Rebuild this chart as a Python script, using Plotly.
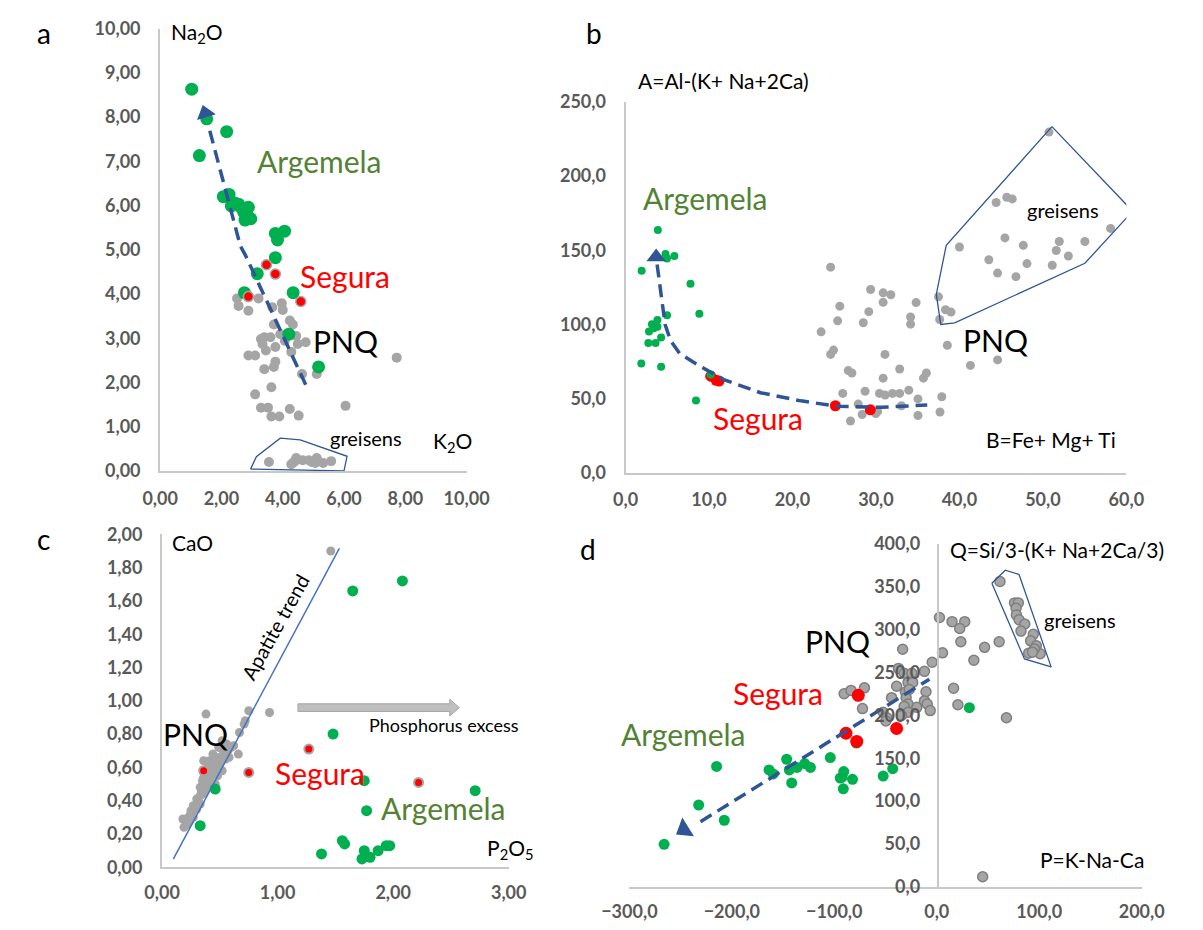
import plotly.graph_objects as go

W, H = 1203, 930

# ---------------- panel a : Na2O vs K2O ----------------
a_pnq_k2o = [2.51, 2.56, 2.88, 3.21, 3.66, 3.97, 4.00, 3.71, 4.23, 4.33, 3.29, 3.40, 3.34, 3.60,
             3.45, 3.76, 3.92, 4.07, 4.44, 4.49, 4.75, 4.28, 2.88, 3.10, 3.76, 3.71, 3.40, 4.63,
             5.11, 7.72, 3.63, 3.10, 3.29, 3.52, 3.63, 3.89, 4.23, 4.52, 6.05]
a_pnq_na2o = [3.90, 3.73, 3.62, 3.90, 3.70, 3.79, 3.64, 3.31, 3.40, 3.31, 2.98, 3.02, 2.87, 3.02,
              2.72, 2.80, 3.09, 2.94, 3.05, 2.87, 2.91, 2.69, 2.61, 2.61, 2.47, 2.35, 2.30, 2.19,
              2.19, 2.56, 1.89, 1.73, 1.43, 1.43, 1.23, 1.23, 1.40, 1.25, 1.47]
a_gr_k2o = [3.55, 4.33, 4.44, 4.65, 4.85, 5.11, 5.06, 5.32, 5.58, 4.28, 4.40, 4.95]
a_gr_na2o = [0.20, 0.18, 0.29, 0.24, 0.24, 0.29, 0.18, 0.18, 0.22, 0.15, 0.22, 0.20]
a_arg_k2o = [1.03, 1.52, 2.17, 1.28, 2.06, 2.25, 2.32, 2.56, 2.88, 2.73, 2.77, 2.96, 2.45, 2.65,
             2.83, 3.76, 4.06, 3.83, 3.76, 3.17, 2.75, 4.34, 4.20, 5.17]
a_arg_na2o = [8.63, 7.96, 7.67, 7.13, 6.20, 6.25, 5.99, 6.03, 5.96, 5.85, 5.67, 5.70, 6.05, 5.95,
              5.80, 5.37, 5.42, 5.22, 4.82, 4.46, 4.03, 4.03, 3.09, 2.35]
a_seg_k2o = [3.47, 3.76, 2.88, 4.59]
a_seg_na2o = [4.66, 4.45, 3.94, 3.83]
a_trend_k2o = [1.62, 2.62, 2.78, 4.75]
a_trend_na2o = [7.69, 5.08, 4.88, 1.95]
a_greisen_k2o = [2.95, 3.14, 3.92, 4.57, 6.10, 6.00, 2.95]
a_greisen_na2o = [0.04, 0.32, 0.74, 0.70, 0.33, 0.00, 0.04]

# ---------------- panel b : A vs B ----------------
b_arg_b = [3.87, 1.93, 4.79, 4.97, 5.85, 7.78, 8.84, 4.97, 3.82, 3.16, 3.38, 2.81, 3.82, 4.26,
           2.73, 3.60, 1.89, 4.26, 8.44, 10.20]
b_arg_a = [163.6, 136.2, 147.4, 144.5, 146.1, 127.4, 107.2, 106.1, 102.9, 100.2, 97.4, 95.2, 98.5,
           91.2, 87.5, 87.5, 73.7, 71.5, 48.7, 66.2]
b_seg_b = [10.2, 10.86, 11.2, 25.14, 29.32]
b_seg_a = [65.1, 62.3, 61.8, 45.2, 42.5]
b_pnq_b = [24.57, 25.67, 25.41, 23.43, 24.92, 24.57, 26.68, 27.12, 26.02, 27.87, 26.95, 28.35,
           28.70, 28.48, 29.14, 29.36, 30.86, 31.78, 30.86, 31.08, 30.86, 32.84, 30.42, 31.10,
           31.98, 32.84, 33.93, 30.20, 29.98, 33.05, 35.03, 35.03, 35.69, 36.04, 34.15, 34.15,
           34.81, 37.49, 37.63, 38.33, 38.99, 38.55, 37.89, 37.67, 41.32, 44.57]
b_pnq_a = [138.6, 112.3, 102.4, 95.0, 82.7, 79.8, 68.9, 67.3, 53.5, 46.3, 34.9, 39.3, 55.0, 101.1,
           108.6, 123.5, 121.3, 120.0, 114.9, 79.8, 63.8, 70.0, 53.5, 52.4, 53.5, 53.5, 55.7,
           41.4, 39.9, 45.2, 49.8, 38.6, 63.8, 67.3, 105.0, 100.2, 114.7, 118.6, 103.3, 109.9,
           108.3, 86.0, 51.3, 41.0, 72.4, 76.1]
b_gr_b = [50.73, 44.40, 45.67, 46.33, 40.00, 45.45, 47.65, 51.96, 55.03, 58.11, 51.60, 53.05,
          43.52, 48.09, 51.12, 44.57, 46.77]
b_gr_a = [229.6, 182.2, 185.7, 184.6, 152.2, 158.3, 153.3, 155.9, 155.9, 164.7, 149.8, 146.1,
          143.6, 141.0, 139.9, 134.6, 132.2]
b_trend_b = [3.78, 4.30, 4.74, 5.40, 6.50, 8.70, 11.77, 16.16, 20.99, 25.38, 30.65, 36.14]
b_trend_a = [140.4, 117.4, 99.9, 89.0, 80.3, 72.6, 62.8, 54.0, 48.5, 44.8, 44.2, 45.7]
b_greisen_b = [51.08, 60.75, 55.03, 39.43, 37.76, 37.23, 38.42, 51.08]
b_greisen_a = [233.3, 176.3, 141.2, 101.1, 100.0, 120.4, 153.3, 233.3]

# ---------------- panel c : CaO vs P2O5 ----------------
c_pnq_p = [1.46, 0.38, 0.75, 0.93, 0.72, 0.71, 0.67, 0.66, 0.56, 0.53, 0.44, 0.49, 0.36, 0.41,
           0.50, 0.44, 0.36, 0.41, 0.46, 0.38, 0.34, 0.33, 0.30, 0.27, 0.25, 0.24, 0.22, 0.18,
           0.21, 0.19, 0.33, 0.38, 0.49, 0.52,
           0.20, 0.23, 0.26, 0.28, 0.31, 0.33, 0.35, 0.37, 0.39, 0.42, 0.43, 0.45, 0.47, 0.48,
           0.51, 0.54, 0.57, 0.60, 0.58, 0.62, 0.40, 0.46, 0.52, 0.35, 0.30, 0.27, 0.22, 0.24,
           0.44, 0.55]
c_pnq_ca = [1.90, 0.92, 0.94, 0.93, 0.88, 0.86, 0.81, 0.68, 0.74, 0.70, 0.68, 0.66, 0.64, 0.64,
            0.62, 0.58, 0.54, 0.52, 0.50, 0.48, 0.46, 0.43, 0.41, 0.37, 0.34, 0.31, 0.29, 0.29,
            0.27, 0.24, 0.48, 0.58, 0.72, 0.76,
            0.28, 0.30, 0.33, 0.36, 0.40, 0.38, 0.44, 0.46, 0.50, 0.54, 0.49, 0.57, 0.60, 0.55,
            0.64, 0.67, 0.70, 0.72, 0.66, 0.73, 0.62, 0.63, 0.58, 0.52, 0.35, 0.30, 0.26, 0.28,
            0.61, 0.65]
c_arg_p = [1.65, 2.08, 1.48, 1.75, 1.77, 2.71, 0.46, 0.33, 1.38, 1.56, 1.58, 1.75, 1.73, 1.80,
           1.87, 1.94, 1.97]
c_arg_ca = [1.66, 1.72, 0.80, 0.52, 0.34, 0.46, 0.47, 0.25, 0.08, 0.16, 0.14, 0.10, 0.05, 0.06,
            0.10, 0.13, 0.13]
c_seg_p = [0.36, 0.75, 1.27, 2.22]
c_seg_ca = [0.58, 0.57, 0.71, 0.51]
c_apatite_p = [0.097, 1.534]
c_apatite_ca = [0.049, 1.916]

# ---------------- panel d : Q vs P ----------------
d_pnq_p = [61.7, 75.9, 79.6, 77.4, 77.7, 80.3, 85.9, 82.2, 94.2, 91.6, 97.2, 89.7, 100.9, 95.3,
           93.4, 2.6, 14.9, 27.3, 22.4, 23.5, 46.7, 60.9, 5.6, -4.5, 36.2, -33.3, -12.0, -37.4,
           -31.8, -24.3, -28.0, -23.5, -39.2, -30.6, -26.9, -10.5, -44.1, -29.9, -28.0, -31.8,
           -19.4, -12.0, -9.3, -6.4, -28.0, -34.4, -52.3, -48.6, -49.7, -90.4, -83.7, -70.6,
           -72.5, 16.4, 20.6, 68.0, 44.8]
d_pnq_q = [356.4, 331.4, 331.4, 325.0, 317.4, 311.7, 306.8, 298.5, 294.7, 287.1, 281.4, 272.7,
           272.0, 277.7, 273.9, 314.4, 309.5, 309.5, 301.5, 286.0, 279.5, 286.0, 273.1, 262.1,
           264.4, 277.3, 251.5, 254.9, 249.2, 249.2, 238.6, 238.6, 234.1, 227.3, 230.3, 227.7,
           220.8, 220.8, 213.3, 210.6, 209.5, 217.0, 213.3, 205.7, 203.8, 200.0, 203.8, 197.3,
           193.6, 225.4, 229.2, 232.2, 208.0, 231.8, 212.5, 197.3, 11.7]
d_arg_p = [-266.1, -232.4, -207.4, -214.9, -163.7, -159.6, -146.5, -143.9, -136.4, -128.9,
           -123.3, -141.6, -103.9, -90.8, -92.3, -94.2, -82.2, -91.2, -78.5, -52.3, -43.0, 31.8]
d_arg_q = [49.6, 95.5, 77.7, 140.5, 136.4, 131.8, 148.9, 136.4, 139.4, 143.9, 139.4, 121.2,
           150.8, 134.5, 128.0, 126.9, 125.4, 114.4, 167.8, 129.2, 137.9, 209.1]
d_seg_p = [-76.6, -88.6, -78.1, -39.2]
d_seg_q = [223.5, 179.2, 169.7, 184.8]
d_trend_p = [-230.6, -7.2]
d_trend_q = [76.0, 242.3]
d_greisen_p = [53.75, 66.9, 80.3, 111.6, 85.6, 53.75]
d_greisen_q = [354.3, 369.5, 364.6, 256.7, 265.9, 354.3]

GREEN = "#00b050"
RED = "#ff0000"
GREY = "#a5a5a5"
DARKBLUE = "#2f5597"
ARG_TXT = "#548235"
AXIS = "#c8c8c8"
TICK = "#595959"


def px_x(x):
    return x / W


def px_y(y):
    return 1 - y / H


fig = go.Figure()


def pts(x, y, ax, color, size, line_color=None, line_width=0):
    fig.add_trace(go.Scatter(
        x=x, y=y, mode="markers", xaxis="x" + ax, yaxis="y" + ax, showlegend=False,
        marker=dict(color=color, size=size,
                    line=dict(color=line_color or color, width=line_width))))


def trend(x, y, ax, dash="13px,7px", width=3.5):
    fig.add_trace(go.Scatter(
        x=x, y=y, mode="lines", xaxis="x" + ax, yaxis="y" + ax, showlegend=False,
        line=dict(color=DARKBLUE, width=width, dash=dash)))


def head(x, y, ax, angle, size):
    fig.add_trace(go.Scatter(
        x=[x], y=[y], mode="markers", xaxis="x" + ax, yaxis="y" + ax, showlegend=False,
        marker=dict(symbol="triangle-up", color=DARKBLUE, size=size, angle=angle,
                    line=dict(width=0))))


def outline(x, y, ax):
    fig.add_trace(go.Scatter(
        x=x, y=y, mode="lines", xaxis="x" + ax, yaxis="y" + ax, showlegend=False,
        line=dict(color=DARKBLUE, width=1.3)))


# panel a
pts(a_pnq_k2o, a_pnq_na2o, "", GREY, 10)
pts(a_gr_k2o, a_gr_na2o, "", GREY, 10)
outline(a_greisen_k2o, a_greisen_na2o, "")
pts(a_arg_k2o, a_arg_na2o, "", GREEN, 13)
pts(a_seg_k2o, a_seg_na2o, "", RED, 10, GREY, 1.5)
trend(a_trend_k2o, a_trend_na2o, "")
head(1.47, 8.09, "", -17, 17)

# panel b
pts(b_pnq_b, b_pnq_a, "2", GREY, 9)
pts(b_gr_b, b_gr_a, "2", GREY, 9)
outline(b_greisen_b, b_greisen_a, "2")
pts(b_seg_b, b_seg_a, "2", RED, 11)
pts(b_arg_b, b_arg_a, "2", GREEN, 8)
trend(b_trend_b, b_trend_a, "2")
head(3.67, 145.4, "2", 0, 17)

# panel c
pts(c_pnq_p, c_pnq_ca, "3", GREY, 9)
pts(c_arg_p, c_arg_ca, "3", GREEN, 11)
pts(c_seg_p, c_seg_ca, "3", RED, 9, GREY, 2)
fig.add_trace(go.Scatter(x=c_apatite_p, y=c_apatite_ca, mode="lines", xaxis="x3", yaxis="y3",
                         showlegend=False, line=dict(color="#4472c4", width=1.5)))

# panel d
pts(d_pnq_p, d_pnq_q, "4", GREY, 10, "#7f7f7f", 1.5)
outline(d_greisen_p, d_greisen_q, "4")
pts(d_arg_p, d_arg_q, "4", GREEN, 11)
pts(d_seg_p, d_seg_q, "4", RED, 13)
trend(d_trend_p, d_trend_q, "4")
head(-246.6, 67.0, "4", 238, 19)

# grey "Phosphorus excess" arrow in panel c
fig.add_shape(type="path", xref="x3", yref="y3",
              path="M 1.176 0.936 L 2.49 0.936 L 2.49 0.909 L 2.573 0.959 L 2.49 1.009 "
                   "L 2.49 0.982 L 1.176 0.982 Z",
              fillcolor="#bfbfbf", line=dict(color="#a6a6a6", width=1))

tickfont = dict(family="Lato", size=18, color=TICK, weight="bold")


def axis(domain_px, rng, dtick, fmt, horizontal, **kw):
    if horizontal:
        dom = [px_x(domain_px[0]), px_x(domain_px[1])]
    else:
        dom = [px_y(domain_px[0]), px_y(domain_px[1])]
    d = dict(domain=dom, range=rng, dtick=dtick, tick0=0, tickformat=fmt, showgrid=False,
             zeroline=False, showline=True, linecolor=AXIS, linewidth=2, ticks="",
             tickfont=tickfont, fixedrange=True)
    d.update(kw)
    return d


fig.update_layout(
    width=W, height=H, margin=dict(l=0, r=0, t=0, b=0),
    paper_bgcolor="white", plot_bgcolor="white", separators=", ",
    xaxis=axis((138, 458), [0, 10], 2, ".2f", True, anchor="y", ticklabelstandoff=11),
    yaxis=axis((470, 17), [0, 10], 1, ".2f", False, anchor="x", ticklabelstandoff=14),
    xaxis2=axis((624, 1147), [0, 60], 10, ".1f", True, anchor="y2", ticklabelstandoff=10),
    yaxis2=axis((472, 92), [0, 250], 50, ".1f", False, anchor="x2", ticklabelstandoff=14),
    xaxis3=axis((140, 502), [0, 3], 1, ".2f", True, anchor="y3", ticklabelstandoff=8),
    yaxis3=axis((876, 535), [0, 2], 0.2, ".2f", False, anchor="x3", ticklabelstandoff=14),
    xaxis4=axis((628, 1163), [-300, 200], 100, ".1f", True, anchor="y4", ticklabelstandoff=8),
    yaxis4=axis((896, 545), [0, 400], 50, ".1f", False, anchor="free",
                position=950 / W, ticklabelstandoff=13),
)


def label(text, x, y, size, color="black", xanchor="center", angle=0):
    fig.add_annotation(text=text, x=px_x(x), y=px_y(y), xref="paper", yref="paper",
                       showarrow=False, xanchor=xanchor, yanchor="middle", textangle=angle,
                       font=dict(family="Lato", size=size, color=color))


# panel letters
label("a", 17, 22, 28)
label("b", 591, 22, 28)
label("c", 16, 540, 28)
label("d", 585, 550, 28)

# panel a texts
label("Na<sub>2</sub>O", 147, 22, 21, xanchor="left")
label("K<sub>2</sub>O", 443, 440, 21)
label("Argemela", 304, 153, 30, ARG_TXT)
label("Segura", 331, 270, 30, RED)
label("PNQ", 332, 337, 30)
label("greisens", 353, 436, 20)

# panel b texts
label("A=Al-(K+ Na+2Ca)", 635, 70, 21, xanchor="left")
label("Argemela", 708, 191, 30, ARG_TXT)
label("Segura", 762, 416, 30, RED)
label("PNQ", 1010, 336, 30)
label("greisens", 1081, 203, 20)
label("B=Fe+ Mg+ Ti", 1068, 438, 21)

# panel c texts
label("CaO", 148, 543, 21, xanchor="left")
label("P<sub>2</sub>O<sub>5</sub>", 504, 857, 21)
label("Apatite trend", 258, 630, 20, angle=-61)
label("Phosphorus excess", 434, 730, 18)
label("PNQ", 175, 739, 30)
label("Segura", 305, 779, 30, RED)
label("Argemela", 434, 815, 30, ARG_TXT)

# panel d texts
label("Q=Si/3-(K+ Na+2Ca/3)", 961, 551, 21, xanchor="left")
label("PNQ", 845, 644, 30)
label("Segura", 783, 698, 30, RED)
label("Argemela", 684, 740, 30, ARG_TXT)
label("greisens", 1099, 623, 20)
label("P=K-Na-Ca", 1111, 868, 21)

fig.write_html("out.html")
